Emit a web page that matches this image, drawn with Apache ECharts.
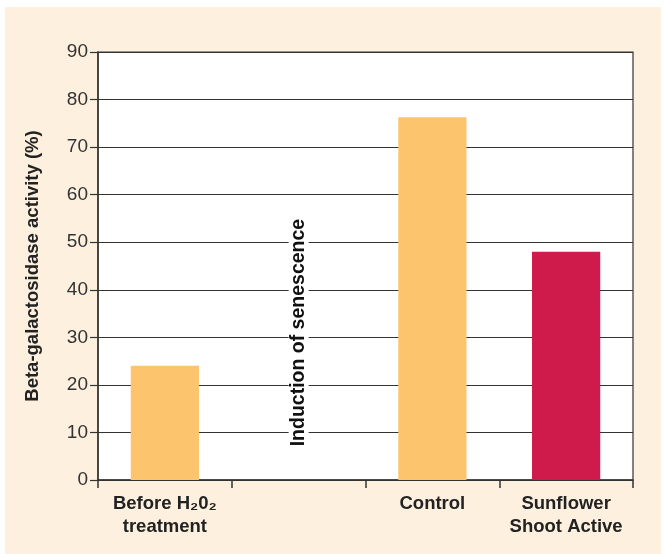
<!DOCTYPE html>
<html>
<head>
<meta charset="utf-8">
<script src="https://cdn.jsdelivr.net/npm/echarts@6/dist/echarts.min.js"></script>
<style>
  html, body { margin: 0; padding: 0; background: #fff; }
  #wrap { position: absolute; left: 5px; top: 7px; width: 656px; height: 547px; background: #fdf0de; }
  #chart { position: absolute; left: 0; top: 0; width: 664px; height: 554px; }
</style>
</head>
<body>
<div id="wrap"></div>
<div id="chart"></div>
<script>
// categories on x axis (second slot is the gap with the note)
var categories = ['Before H\u20820\u2082\ntreatment', '', 'Control', 'Sunflower\nShoot Active'];
// beta-galactosidase activity (%)
var activity = [24, null, 76.3, 48];
var barColors = ['#fdc46e', '#fdc46e', '#fdc46e', '#cf1a4c'];
// note placed in the empty slot
var noteText = 'Induction of senescence';
var noteValue = 31;

var chart = echarts.init(document.getElementById('chart'));
var option = {
    backgroundColor: 'transparent',
    animation: false,
    grid: {
        left: 98, right: 31, top: 52, bottom: 74,
        show: true,
        backgroundColor: '#fff',
        borderColor: '#333',
        borderWidth: 1.2
    },
    xAxis: {
        type: 'category',
        data: categories,
        axisLine: { lineStyle: { color: '#333', width: 1.5 } },
        axisTick: { show: true, length: 8, lineStyle: { color: '#333', width: 1.5 } },
        axisLabel: {
            color: '#222',
            fontFamily: 'Liberation Sans',
            fontWeight: 'bold',
            fontSize: 18.5,
            lineHeight: 23,
            margin: 12,
            interval: 0
        }
    },
    yAxis: {
        type: 'value',
        min: 0, max: 90, interval: 10,
        name: 'Beta-galactosidase activity (%)',
        nameLocation: 'middle',
        nameGap: 56,
        nameRotate: 90,
        nameTextStyle: {
            color: '#222',
            fontFamily: 'Liberation Sans',
            fontWeight: 'bold',
            fontSize: 18.5
        },
        axisLine: { show: true, lineStyle: { color: '#333', width: 1.5 } },
        axisTick: { show: true, length: 8, lineStyle: { color: '#333', width: 1.2 } },
        axisLabel: {
            color: '#333',
            fontFamily: 'Liberation Sans',
            fontSize: 19,
            margin: 10
        },
        splitLine: { show: true, lineStyle: { color: '#333', width: 1.2 } }
    },
    series: [{
        type: 'bar',
        barWidth: '51%',
        data: activity.map(function (v, i) {
            return { value: v, itemStyle: { color: barColors[i] } };
        })
    }, {
        type: 'scatter',
        symbolSize: 0,
        z: 5,
        itemStyle: { opacity: 1 },
        data: [[categories[1], noteValue]],
        label: {
            show: true,
            position: 'inside',
            rotate: 90,
            formatter: noteText,
            color: '#111',
            fontFamily: 'Liberation Sans',
            fontWeight: 'bold',
            fontSize: 19.5,
            backgroundColor: '#fff',
            padding: [0, 8]
        }
    }]
};
chart.setOption(option);
</script>
</body>
</html>
